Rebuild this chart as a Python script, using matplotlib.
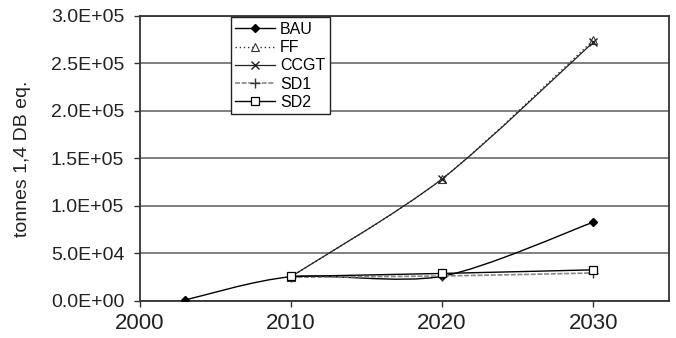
import matplotlib
matplotlib.use("Agg")
import matplotlib.pyplot as plt
from matplotlib.path import Path
from matplotlib.patches import PathPatch
from matplotlib.lines import Line2D
from matplotlib.ticker import FormatStrFormatter

plt.rcParams['font.family'] = ['Liberation Sans', 'DejaVu Sans']

# scenario results, tonnes 1,4 DB eq.
years_bau = [2003, 2010, 2020, 2030]
bau = [1000, 25500, 26000, 83000]

years = [2010, 2020, 2030]
ff = [25500, 128500, 274500]
ccgt = [25500, 128500, 272500]
sd1 = [25000, 26300, 29500]
sd2 = [25800, 29000, 32800]


def smooth_path(xs, ys, k=1 / 7):
    # cubic Bezier through the points (spreadsheet "smoothed line")
    pts = list(zip(xs, ys))
    verts = [pts[0]]
    codes = [Path.MOVETO]
    n = len(pts)
    for i in range(n - 1):
        p0 = pts[i - 1] if i > 0 else pts[i]
        p1 = pts[i]
        p2 = pts[i + 1]
        p3 = pts[i + 2] if i + 2 < n else pts[i + 1]
        c1 = (p1[0] + (p2[0] - p0[0]) * k, p1[1] + (p2[1] - p0[1]) * k)
        c2 = (p2[0] - (p3[0] - p1[0]) * k, p2[1] - (p3[1] - p1[1]) * k)
        verts += [c1, c2, p2]
        codes += [Path.CURVE4] * 3
    return Path(verts, codes)


fig = plt.figure(figsize=(6.76, 3.38), dpi=100)
ax = fig.add_axes([0.2064, 0.1095, 0.7832, 0.8432])

series = [
    ("BAU", years_bau, bau, dict(color="black", ls="-", lw=1.0),
     dict(marker="D", ms=4.5, mfc="black", mec="black")),
    ("FF", years, ff, dict(color="#333333", ls=(0, (1, 2)), lw=1.0),
     dict(marker="^", ms=5.5, mfc="white", mec="#333333", mew=0.8)),
    ("CCGT", years, ccgt, dict(color="#222222", ls="-", lw=0.9),
     dict(marker="x", ms=5.5, mfc="none", mec="#222222", mew=1.0)),
    ("SD1", years, sd1, dict(color="#888888", ls=(0, (3, 1)), lw=1.2),
     dict(marker="+", ms=7, mfc="none", mec="#333333", mew=1.0)),
    ("SD2", years, sd2, dict(color="black", ls="-", lw=1.0),
     dict(marker="s", ms=5.5, mfc="white", mec="black", mew=0.9)),
]

handles = []
for name, xs, ys, lstyle, mstyle in series:
    patch = PathPatch(smooth_path(xs, ys), fill=False, edgecolor=lstyle["color"],
                      linestyle=lstyle["ls"], linewidth=lstyle["lw"], zorder=3)
    ax.add_patch(patch)
    ax.plot(xs, ys, ls="none", zorder=4, **mstyle)
    handles.append(Line2D([], [], color=lstyle["color"], ls=lstyle["ls"],
                          lw=lstyle["lw"], label=name, **mstyle))

ax.set_xlim(2000, 2035)
ax.set_ylim(0, 300000)
ax.set_xticks([2000, 2010, 2020, 2030])
ax.set_yticks([0, 50000, 100000, 150000, 200000, 250000, 300000])
ax.yaxis.set_major_formatter(FormatStrFormatter("%.1E"))
ax.grid(axis="y", color="#808080", lw=1.4)
ax.set_axisbelow(True)
for sp in ax.spines.values():
    sp.set_color("#333333")
    sp.set_linewidth(1.3)
ax.tick_params(axis="both", direction="out", length=4, width=1.0,
               colors="#333333", labelcolor="#222222")
ax.tick_params(axis="x", pad=5, labelsize=16)
ax.tick_params(axis="y", pad=7, labelsize=14)
ax.set_ylabel("tonnes 1,4 DB eq.", fontsize=14, color="#222222")
ax.yaxis.set_label_coords(-0.205, 0.5)

leg = ax.legend(handles=handles, loc="upper left", bbox_to_anchor=(0.172, 0.996),
                fontsize=11.5, frameon=True, fancybox=False, edgecolor="#222222",
                framealpha=1, handlelength=2.5, labelspacing=0.2,
                borderpad=0.3, handletextpad=0.3, borderaxespad=0)
leg.get_frame().set_linewidth(1.0)

fig.savefig("out.png", dpi=100)
